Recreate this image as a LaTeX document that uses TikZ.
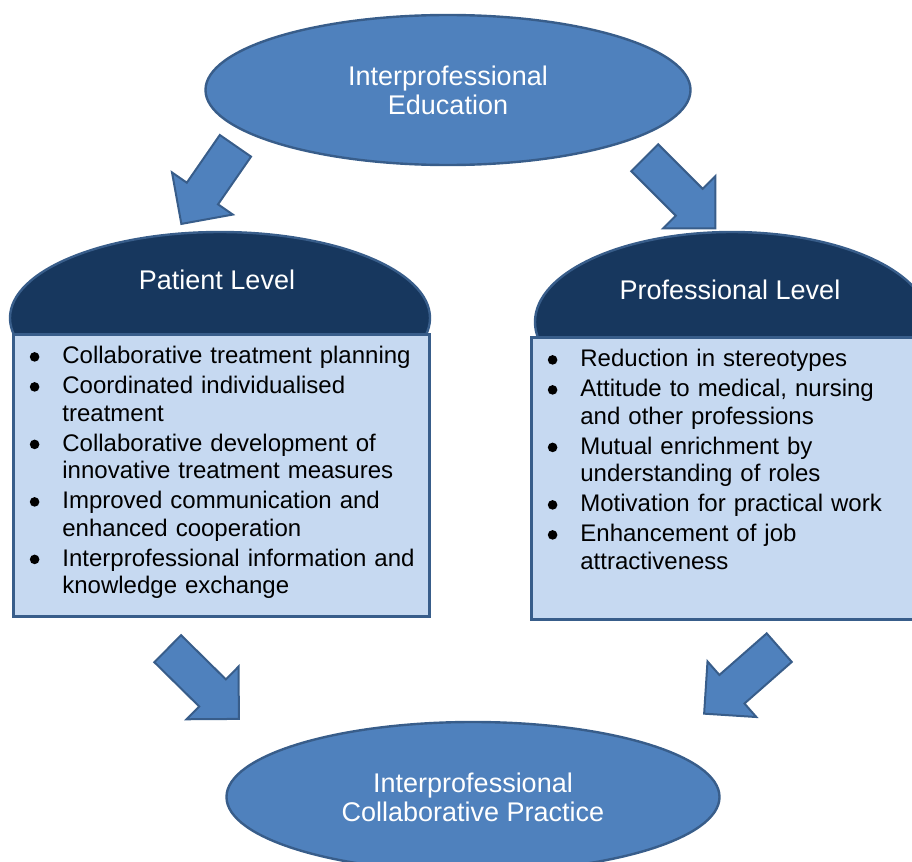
\documentclass[tikz,border=0pt]{standalone}
\usepackage{fontspec}
\setmainfont{Liberation Sans}
\usepackage{enumitem}
\usepackage{tikz}
\usetikzlibrary{shapes.geometric, shapes.arrows, positioning}
\definecolor{ovalblue}{HTML}{4F81BD}
\definecolor{edgeblue}{HTML}{385D8A}
\definecolor{domenavy}{HTML}{17375E}
\definecolor{boxblue}{HTML}{C6D9F1}
\newcommand{\headsize}{\fontsize{13.5}{14.5}\selectfont}
\newcommand{\listsize}{\fontsize{12}{13.75}\selectfont}
\newcommand{\listdot}{\tikz[baseline=-3.5pt]\fill (0,0) circle (2.4pt);}
\setlist[itemize]{label=\listdot, leftmargin=25pt, labelsep=11.5pt, itemsep=1.25pt, parsep=0pt, topsep=0pt, partopsep=0pt}
\tikzset{
	oval/.style={ellipse, draw=edgeblue, line width=1.2pt, fill=ovalblue, text=white, font=\headsize, align=center, inner sep=0pt}, % the two big ovals
	dome/.style={ellipse, draw=edgeblue, line width=1.2pt, fill=domenavy, inner sep=0pt}, % dark cap behind each list
	heading/.style={text=white, font=\headsize}, % title on the cap
	listbox/.style={rectangle, draw=edgeblue, line width=1.5pt, fill=boxblue, anchor=north west, inner sep=0pt},
	listtext/.style={anchor=north west, inner sep=0pt, font=\listsize, align=left},
	bigarrow/.style={single arrow, draw=edgeblue, line width=1pt, fill=ovalblue, anchor=tail, minimum width=0pt, inner xsep=0pt, inner ysep=9pt, single arrow head extend=9pt}, % block arrows
}

\begin{document}
\begin{tikzpicture}[x=0.5pt, y=-0.5pt]
	\clip (0,0) rectangle (912,862);

	\node[oval, minimum width=242.5pt, minimum height=75pt] (edu) at (448,90) {Interprofessional\\Education};
	\node[oval, minimum width=246.5pt, minimum height=75pt] (practice) at (473,797) {Interprofessional\\Collaborative Practice};

	\node[dome, minimum width=210pt, minimum height=86pt] (pdome) at (220,318) {};
	\node[dome, minimum width=197pt, minimum height=90pt] (rdome) at (732,322) {};
	\node[listbox, minimum width=208pt, minimum height=141pt] (pbox) at (12,333) {};
	\node[listbox, minimum width=197.5pt, minimum height=141pt] (rbox) at (530,336) {};
	\node[heading] (phead) at (217,280) {Patient Level};
	\node[heading] (rhead) at (730,290) {Professional Level};

	\node[listtext, text width=215pt] (plist) at ([yshift=-1.5pt]pbox.north west) {
		\begin{itemize}
			\item Collaborative treatment planning
			\item Coordinated individualised\newline treatment
			\item Collaborative development of\newline innovative treatment measures
			\item Improved communication and\newline enhanced cooperation
			\item Interprofessional information and\newline knowledge exchange
		\end{itemize}};
	\node[listtext, text width=200pt] (rlist) at ([yshift=-1.5pt]rbox.north west) {
		\begin{itemize}
			\item Reduction in stereotypes
			\item Attitude to medical, nursing\newline and other professions
			\item Mutual enrichment by\newline understanding of roles
			\item Motivation for practical work
			\item Enhancement of job\newline attractiveness
		\end{itemize}};

	\node[bigarrow, minimum height=47.5pt, rotate=-124.7] (a1) at (236,145) {};
	\node[bigarrow, minimum height=50pt, rotate=-45] (a2) at (644,157) {};
	\node[bigarrow, minimum height=50pt, rotate=-44.6] (a3) at (167,648) {};
	\node[bigarrow, minimum height=50pt, rotate=-138.7] (a4) at (780,647) {};
\end{tikzpicture}
\end{document}
